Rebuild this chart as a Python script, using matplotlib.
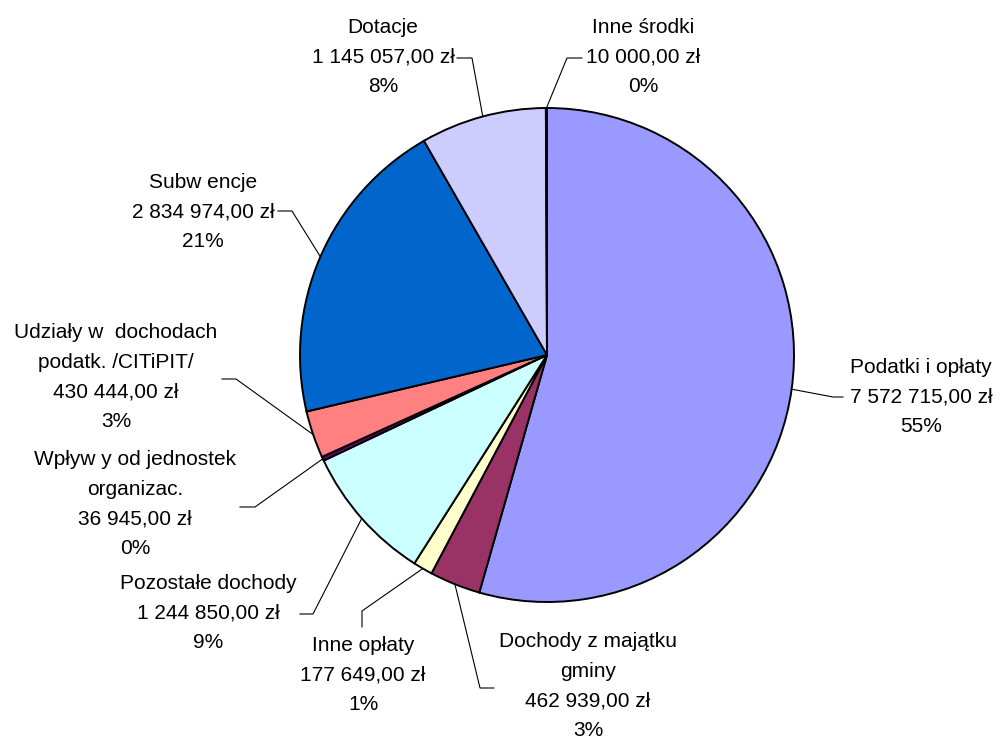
import matplotlib; matplotlib.use('Agg')
import matplotlib.pyplot as plt
import numpy as np

plt.rcParams['font.family'] = ['Liberation Sans', 'DejaVu Sans']

# ---------- data ----------
names = ['Podatki i opłaty', 'Dochody z majątku\ngminy', 'Inne opłaty', 'Pozostałe dochody',
         'Wpływ y od jednostek\norganizac.', 'Udziały w  dochodach\npodatk. /CITiPIT/',
         'Subw encje', 'Dotacje', 'Inne środki']
values = [7572715.00, 462939.00, 177649.00, 1244850.00, 36945.00, 430444.00,
          2834974.00, 1145057.00, 10000.00]
pct_labels = ['55%', '3%', '1%', '9%', '0%', '3%', '21%', '8%', '0%']
colors = ['#9999FF', '#993366', '#FFFFCC', '#CCFFFF', '#660066', '#FF8080',
          '#0066CC', '#CCCCFF', '#000080']

# ---------- layout (image pixel coords, y measured from top) ----------
W, H = 1000, 740
cx, cy, R = 547, 355, 247
text_pos = [(921, 397), (588, 686), (363, 675), (208, 613), (135, 504),
            (116, 377), (203, 212), (383, 57), (643, 57)]
# leader: start at text edge, elbow, then to wedge edge
leader = [((843, 397), (833, 397)), ((494, 688), (480, 688)), ((362, 627), (362, 611)),
          ((300, 614), (313, 614)), ((240, 507), (255, 507)), ((222, 379), (236, 379)),
          ((278, 211), (292, 211)), ((457, 58), (472, 58)), ((582, 58), (567, 58))]

def fy(y):
    return H - y

def money(v):
    s = f'{v:,.2f}'.replace(',', ' ').replace('.', ',')
    return s + ' zł'

fig = plt.figure(figsize=(10, 7.4), dpi=100)
ax = fig.add_axes([0, 0, 1, 1])
wedges, _ = ax.pie(values, colors=colors, startangle=90, counterclock=False,
                   center=(cx, fy(cy)), radius=R,
                   wedgeprops=dict(edgecolor='black', linewidth=1.4))
ax.set_xlim(0, W); ax.set_ylim(0, H); ax.axis('off')

for w, name, v, p, (tx, ty), (s, e) in zip(wedges, names, values, pct_labels, text_pos, leader):
    ang = np.deg2rad((w.theta1 + w.theta2) / 2)
    px = cx + R * np.cos(ang)
    py = fy(cy) + R * np.sin(ang)
    ax.plot([s[0], e[0], px], [fy(s[1]), fy(e[1]), py], color='black', lw=0.8,
            solid_joinstyle='miter')
    ax.text(tx, fy(ty), f'{name}\n{money(v)}\n{p}', ha='center', va='center',
            multialignment='center', fontsize=15, linespacing=1.72, color='black')

fig.savefig('out.png', dpi=100, facecolor='white')
